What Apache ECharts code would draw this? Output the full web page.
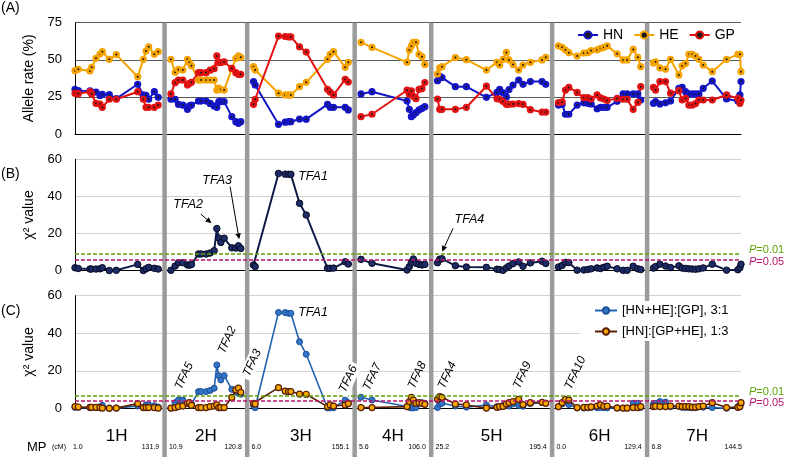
<!DOCTYPE html>
<html><head><meta charset="utf-8">
<script src="https://cdn.jsdelivr.net/npm/echarts@6/dist/echarts.min.js"></script>
<style>html,body{margin:0;padding:0;background:#fff}#c{width:787px;height:457px}</style>
</head><body><div id="c"></div>
<script>
// ---------------- data ----------------
const chromosomes = ['1H','2H','3H','4H','5H','6H','7H'];
const chrStart = [1.0, 10.9, 6.0, 5.6, 25.2, 0.0, 6.8];
const chrEnd   = [131.9, 120.8, 155.1, 106.0, 195.4, 129.4, 144.5];

const markerCM = [
  [1.0, 6.2, 24.6, 27.2, 34.0, 40.3, 44.0, 55.0, 66.0, 99.6, 108.5, 112.7, 116.9, 125.8, 131.9],
  [10.9, 17.5, 22.7, 29.6, 36.9, 40.0, 43.2, 54.2, 58.4, 66.3, 72.6, 78.9, 83.1, 86.2, 89.4, 94.6, 106.7, 113.0, 117.1, 120.8],
  [6.0, 8.6, 45.3, 55.8, 61.1, 64.7, 78.4, 88.9, 122.4, 126.6, 131.9, 150.2, 155.1],
  [5.6, 22.9, 78.0, 81.6, 84.8, 87.9, 92.1, 96.8, 101.6, 106.0],
  [25.2, 28.6, 32.2, 53.2, 70.5, 102.0, 118.7, 122.9, 128.2, 133.4, 137.6, 143.9, 152.8, 159.6, 171.2, 189.5, 195.4],
  [0.0, 5.8, 11.0, 16.3, 29.4, 39.9, 46.1, 51.4, 60.8, 66.1, 71.3, 76.6, 92.3, 101.7, 108.0, 117.5, 124.8, 129.4],
  [6.8, 10.1, 16.9, 25.8, 33.7, 46.8, 52.0, 57.3, 62.5, 67.8, 73.0, 78.3, 85.1, 99.3, 121.8, 139.6, 142.8, 144.5]
];

const hnRate = [
  [30.1, 29.2, 29.0, 28.0, 28.3, 26.0, 26.7, 26.5, 23.8, 33.5, 26.3, 26.0, 23.4, 28.5, 24.7],
  [23.4, 23.4, 20.0, 19.5, 16.6, 18.9, 19.5, 22.2, 22.2, 22.2, 20.6, 18.9, 18.0, 21.8, 21.8, 21.8, 11.7, 8.3, 7.2, 8.3],
  [35.3, 33.0, 6.5, 8.0, 8.3, 8.3, 10.1, 10.0, 20.0, 18.0, 18.0, 18.0, 16.2],
  [27.0, 28.5, 22.2, 16.6, 11.7, 12.8, 14.4, 16.2, 17.3, 18.4],
  [35.9, 38.8, 38.0, 31.9, 31.9, 24.7, 28.0, 30.1, 27.8, 25.0, 30.0, 33.0, 36.4, 33.5, 35.3, 35.3, 33.5],
  [19.5, 20.0, 13.3, 13.3, 19.5, 21.0, 20.7, 20.2, 17.0, 18.0, 18.0, 18.0, 22.0, 27.0, 27.0, 27.0, 27.0, 22.9],
  [20.7, 21.8, 20.2, 21.0, 22.2, 30.8, 31.4, 28.5, 27.0, 27.0, 27.0, 27.0, 30.8, 35.7, 23.6, 22.3, 26.3, 35.3]
];
const heRate = [
  [42.7, 43.6, 42.5, 44.9, 51.0, 53.9, 55.5, 50.3, 53.5, 38.6, 50.3, 55.9, 58.8, 53.7, 55.5],
  [50.3, 41.6, 43.5, 43.1, 50.3, 48.1, 46.0, 36.4, 36.4, 36.4, 36.4, 36.4, 29.6, 31.0, 30.0, 29.6, 44.0, 51.0, 52.6, 51.7],
  [45.4, 43.1, 27.5, 26.3, 26.3, 26.3, 31.9, 34.8, 50.3, 53.7, 55.5, 44.9, 48.3],
  [61.8, 58.4, 48.3, 56.6, 59.3, 61.8, 61.8, 53.7, 52.1, 46.9],
  [40.5, 44.6, 45.4, 51.5, 50.1, 43.1, 48.3, 46.5, 50.3, 55.0, 49.9, 46.8, 43.1, 46.5, 48.3, 49.9, 51.7],
  [59.4, 58.4, 56.6, 54.8, 52.5, 54.5, 54.8, 56.2, 56.7, 57.7, 58.4, 59.4, 54.0, 49.9, 49.9, 57.0, 51.7, 45.4],
  [47.9, 48.7, 44.5, 43.6, 50.3, 39.8, 46.0, 47.5, 53.7, 53.7, 52.5, 50.3, 46.5, 42.0, 50.3, 53.7, 53.7, 42.0]
];
const gpRate = [
  [27.4, 27.2, 28.5, 27.0, 20.7, 20.2, 18.0, 23.4, 23.4, 28.5, 23.4, 18.0, 18.0, 18.0, 19.5],
  [27.0, 34.6, 36.4, 36.4, 33.0, 34.1, 34.8, 41.3, 41.3, 41.3, 43.0, 44.0, 52.6, 48.1, 48.2, 48.7, 44.2, 41.3, 40.2, 40.2],
  [20.0, 23.4, 66.0, 65.7, 65.4, 65.4, 58.8, 55.2, 30.1, 28.3, 26.3, 36.8, 35.0],
  [11.7, 13.3, 29.5, 26.8, 29.0, 25.4, 23.8, 30.1, 30.6, 34.7],
  [23.6, 16.6, 16.6, 16.6, 18.0, 32.2, 23.7, 23.4, 21.9, 20.0, 20.1, 20.2, 20.5, 20.0, 16.4, 14.8, 14.8],
  [21.1, 21.6, 29.6, 31.4, 28.0, 24.5, 24.5, 23.6, 26.3, 24.3, 23.6, 22.6, 24.0, 23.4, 23.4, 16.6, 21.3, 31.9],
  [31.4, 29.6, 35.3, 35.3, 27.5, 29.2, 22.9, 24.0, 19.5, 19.5, 20.5, 22.9, 22.9, 22.9, 26.3, 24.0, 20.7, 22.7]
];
const chiB = [
  [1.6, 1.2, 0.9, 0.9, 0.9, 1.0, 1.6, 0.1, 0.2, 3.4, 0.1, 1.0, 1.8, 1.3, 0.9],
  [0.2, 2.5, 4.3, 4.3, 3.1, 3.0, 3.4, 9.0, 9.0, 9.0, 9.5, 10.8, 22.7, 17.6, 15.2, 17.5, 12.3, 12.2, 13.4, 12.0],
  [3.1, 2.2, 52.4, 52.0, 51.9, 51.9, 36.3, 30.0, 1.3, 1.3, 1.4, 4.8, 3.6],
  [6.1, 4.0, 0.4, 2.2, 4.5, 6.3, 4.0, 3.4, 3.1, 3.4],
  [4.3, 6.2, 6.4, 2.7, 2.0, 1.8, 0.8, 0.6, 0.2, 1.5, 2.5, 3.8, 4.7, 2.4, 4.2, 5.1, 3.9],
  [2.0, 2.8, 4.5, 4.4, 0.3, 0.4, 0.7, 1.0, 1.5, 1.2, 1.8, 2.4, 1.0, 0.2, 0.2, 2.4, 1.0, 0.6],
  [1.4, 2.2, 3.5, 2.5, 1.7, 2.6, 1.4, 1.2, 1.0, 0.9, 0.8, 1.0, 1.5, 3.5, 0.3, 0.5, 1.6, 3.5]
];
const chiC31 = [
  [0.5, 0.5, 0.3, 0.3, 0.4, 0.8, 1.6, 0.2, 0.1, 1.2, 0.5, 1.8, 1.8, 1.4, 0.7],
  [0.1, 3.0, 4.4, 4.4, 2.5, 2.3, 2.3, 8.9, 8.9, 8.9, 9.5, 10.7, 23.1, 17.4, 15.1, 17.4, 10.1, 9.0, 8.0, 7.5],
  [1.5, 0.3, 51.1, 51.0, 50.6, 50.6, 35.5, 28.8, 0.2, 0.2, 0.3, 4.4, 3.0],
  [5.9, 4.4, 1.0, 0.5, 0.2, 0.2, 0.4, 2.7, 3.0, 2.7],
  [0.4, 2.3, 2.7, 1.2, 0.6, 1.8, 0.9, 0.9, 1.5, 2.1, 1.2, 2.3, 1.5, 1.1, 2.5, 3.0, 2.7],
  [0.8, 2.3, 3.6, 2.0, 0.2, 0.1, 0.2, 0.5, 0.3, 0.4, 0.3, 0.2, 0.2, 0.1, 0.1, 2.7, 2.7, 0.5],
  [2.3, 2.6, 3.6, 3.3, 0.8, 1.0, 0.5, 0.4, 0.4, 0.3, 0.3, 0.8, 0.6, 0.4, 0.0, 0.9, 1.5, 2.5]
];
const chiC13 = [
  [0.9, 0.7, 0.5, 0.5, 0.5, 0.4, 0.1, 0.0, 0.1, 2.5, 0.4, 0.4, 0.4, 0.4, 0.1],
  [0.1, 0.4, 0.9, 1.2, 2.7, 3.0, 1.6, 0.4, 0.4, 0.4, 0.9, 1.2, 1.8, 0.4, 0.4, 0.4, 5.8, 9.8, 10.7, 8.5],
  [2.7, 2.3, 11.0, 9.2, 8.9, 8.9, 7.6, 7.5, 0.9, 1.8, 1.2, 1.8, 2.5],
  [0.4, 0.4, 0.9, 3.6, 5.9, 4.4, 2.7, 3.0, 2.7, 2.1],
  [4.8, 6.2, 5.9, 2.3, 1.8, 0.1, 0.5, 0.9, 1.0, 2.3, 3.0, 3.6, 4.8, 2.0, 3.0, 3.2, 2.7],
  [0.9, 3.0, 4.8, 4.4, 0.4, 0.5, 0.5, 0.8, 1.2, 1.8, 1.0, 1.2, 0.2, 0.1, 0.1, 0.4, 0.4, 0.9],
  [0.9, 1.1, 0.9, 0.9, 1.2, 1.2, 0.9, 0.9, 0.9, 0.6, 0.6, 0.9, 1.2, 3.0, 0.4, 0.5, 0.9, 3.0]
];
// threshold chi-square values
const thresholdsB = [9.21, 5.99];   // P=0.01, P=0.05 (df=2)
const thresholdsC = [6.63, 3.84];   // P=0.01, P=0.05 (df=1)
const thresholdNames = ['0.01', '0.05'];
const ticksA = [0, 25, 50, 75];
const ticksChi = [0, 20, 40, 60];
const legendA = ['HN', 'HE', 'GP'];
const legendC = ['[HN+HE]:[GP], 3:1', '[HN]:[GP+HE], 1:3'];

// annotations: [text, chromosome index, cM, value, align]
const annB = [
  ['TFA1', 2, 76.3, 50.5, 'left'],
  ['TFA2', 1, 38.0, 35.4, 'center'],
  ['TFA3', 1, 83.6, 48.8, 'center'],
  ['TFA4', 4, 75.2, 27.3, 'center']
];
// arrows: [chr, cM1, v1, cM2, v2]
const arrowsB = [
  [1, 57.9, 30.5, 74.7, 25.5],
  [1, 104.0, 45.2, 118.2, 16.9],
  [4, 49.6, 22.8, 32.3, 10.2]
];
// [text, chr, cM, value, rotated, whiteBackground]
const annC = [
  ['TFA5', 1, 31.7, 17.2, true, false],
  ['TFA2', 1, 99.3, 36.4, true, false],
  ['TFA3', 2, 4.0, 24.2, true, true],
  ['TFA1', 2, 76.3, 50.8, false, false],
  ['TFA6', 2, 155.0, 15.6, true, true],
  ['TFA7', 3, 23.4, 16.7, true, false],
  ['TFA8', 3, 94.0, 17.7, true, false],
  ['TFA4', 4, 40.6, 17.7, true, false],
  ['TFA9', 4, 158.6, 17.7, true, false],
  ['TFA10', 5, 26.7, 18.8, true, false]
];

// ---------------- layout helpers ----------------
const FONT = '"Liberation Sans", Arial, Helvetica, sans-serif';
const GAP = 20;
const lens = chrStart.map((s, i) => chrEnd[i] - s);
const offsets = [];
let acc = 0;
for (let i = 0; i < lens.length; i++) { offsets.push(acc); acc += lens[i] + GAP; }
const TOTAL = offsets[6] + lens[6];
function toX(c, cm) { return offsets[c] + cm - chrStart[c]; }
function pts(c, arr) { return markerCM[c].map((cm, i) => [toX(c, cm), arr[c][i]]); }

const chart = echarts.init(document.getElementById('c'));

const grids = [
  { left: 75, right: 46, top: 22.7, height: 111.3 },
  { left: 75, right: 46, top: 159.3, height: 111.4 },
  { left: 75, right: 46, top: 295.7, height: 112.6 }
];
const xAxes = grids.map((g, i) => ({
  type: 'value', gridIndex: i, min: 0, max: TOTAL,
  axisLine: { show: true, lineStyle: { color: '#000', width: 1 } },
  axisTick: { show: false }, axisLabel: { show: false }, splitLine: { show: false }
}));
function yAx(i, ticks, name, splitColor) {
  return {
    type: 'value', gridIndex: i, min: ticks[0], max: ticks[ticks.length - 1],
    interval: ticks[1] - ticks[0],
    name: name, nameLocation: 'middle', nameGap: 33,
    nameTextStyle: { fontSize: 14, color: '#000', fontFamily: FONT },
    axisLine: { show: true, lineStyle: { color: '#000', width: 1 } },
    axisTick: { show: false },
    axisLabel: { fontSize: 13, color: '#000', margin: 13, fontFamily: FONT },
    splitLine: { show: true, lineStyle: { color: splitColor, width: 1 } }
  };
}
const yAxes = [
  yAx(0, ticksA, 'Allele rate (%)', '#5a5a5a'),
  yAx(1, ticksChi, 'χ² value', '#d2d2d2'),
  yAx(2, ticksChi, 'χ² value', '#d2d2d2')
];

const series = [];
const aDefs = [['HN', hnRate, '#1515c8'], ['HE', heRate, '#f5a300'], ['GP', gpRate, '#e31212']];
aDefs.forEach(([name, arr, col]) => {
  chromosomes.forEach((ch, c) => series.push({
    type: 'line', name: name, xAxisIndex: 0, yAxisIndex: 0, data: pts(c, arr),
    symbol: 'circle', symbolSize: 4.6, showSymbol: true,
    lineStyle: { color: col, width: 2 },
    itemStyle: { color: '#1a1a1a', borderColor: col, borderWidth: 2.6 },
    z: 3
  }));
});
function mk(vals, colors) {
  return {
    silent: true, symbol: ['none', 'none'], label: { show: false },
    data: vals.map((v, i) => ({ yAxis: v, lineStyle: { color: colors[i], type: [4, 2], width: 1.5 } }))
  };
}
const green = '#5ea00a', magenta = '#b8146e';
chromosomes.forEach((ch, c) => series.push({
  type: 'line', name: 'chiB', xAxisIndex: 1, yAxisIndex: 1, data: pts(c, chiB),
  symbol: 'circle', symbolSize: 6.5, showSymbol: true,
  lineStyle: { color: '#101c48', width: 2 },
  itemStyle: { color: '#1d2b66', borderColor: '#060b22', borderWidth: 1 },
  markLine: c === 0 ? mk(thresholdsB, [green, magenta]) : undefined,
  z: 3
}));
chromosomes.forEach((ch, c) => series.push({
  type: 'line', name: legendC[0], xAxisIndex: 2, yAxisIndex: 2, data: pts(c, chiC31),
  symbol: 'circle', symbolSize: 6, showSymbol: true,
  lineStyle: { color: '#2262b2', width: 1.6 },
  itemStyle: { color: '#3274c8', borderColor: '#1c4f96', borderWidth: 1 },
  markLine: c === 0 ? mk(thresholdsC, [green, magenta]) : undefined,
  z: 3
}));
chromosomes.forEach((ch, c) => series.push({
  type: 'line', name: legendC[1], xAxisIndex: 2, yAxisIndex: 2, data: pts(c, chiC13),
  symbol: 'circle', symbolSize: 6, showSymbol: true,
  lineStyle: { color: '#5a1e02', width: 1.6 },
  itemStyle: { color: '#f6a800', borderColor: '#5a1e02', borderWidth: 1.2 },
  z: 4
}));

const option = {
  animation: false,
  backgroundColor: '#fff',
  textStyle: { fontFamily: FONT },
  grid: grids, xAxis: xAxes, yAxis: yAxes, series: series,
  legend: [
    { data: legendA, left: 577, top: 28, itemWidth: 20, itemHeight: 9, itemGap: 10,
      padding: 0, selectedMode: false,
      textStyle: { fontSize: 14, color: '#000', fontFamily: FONT } },
    { data: legendC, left: 580, top: 301, orient: 'vertical', itemWidth: 22, itemHeight: 8, itemGap: 8,
      padding: [3, 17, 3, 14], backgroundColor: '#fff', selectedMode: false,
      textStyle: { fontSize: 13, color: '#000', fontFamily: FONT } }
  ]
};
chart.setOption(option);

// ---------------- decorations ----------------
function px(g, c, cm, v) { return chart.convertToPixel({ gridIndex: g }, [toX(c, cm), v]); }
function pxRaw(g, x, v) { return chart.convertToPixel({ gridIndex: g }, [x, v]); }
const gr = [];
const topY = pxRaw(0, 0, ticksA[ticksA.length - 1])[1];
for (let c = 0; c < chromosomes.length - 1; c++) {
  const x = pxRaw(0, offsets[c] + lens[c] + GAP / 2, 0)[0];
  gr.push({ type: 'line', z: 1, silent: true,
    shape: { x1: x, y1: topY, x2: x, y2: 457 },
    style: { stroke: '#9b9b9b', lineWidth: 4.5 } });
}
function txt(t, x, y, o) {
  o = o || {};
  gr.push({ type: 'text', x: x, y: y, z: o.z || 20, rotation: o.rot || 0, silent: true,
    style: Object.assign({ text: t, fill: o.fill || '#000', fontSize: o.size || 12,
      fontFamily: FONT, fontStyle: o.italic ? 'italic' : 'normal', fontWeight: o.weight || 'normal',
      align: o.align || 'center', verticalAlign: o.va || 'middle' }, o.extra || {}) });
}
// chromosome labels & MP ticks
chromosomes.forEach((ch, c) => {
  const xs = pxRaw(2, offsets[c], 0)[0];
  const xe = pxRaw(2, offsets[c] + lens[c], 0)[0];
  txt(ch, (xs + xe) / 2, 436, { size: 17 });
  txt(chrStart[c].toFixed(1), xs - 2, 447, { size: 7, align: 'left' });
  txt(chrEnd[c].toFixed(1), xe + 1, 447, { size: 7, align: 'right' });
});
txt('MP', 27, 447, { size: 13, align: 'left' });
txt('(cM)', 52, 447, { size: 7, align: 'left' });
// panel labels
txt('(A)', 1, 8, { size: 14, align: 'left' });
txt('(B)', 1, 174, { size: 14, align: 'left' });
txt('(C)', 1, 311, { size: 14, align: 'left' });
// P labels
[[1, thresholdsB], [2, thresholdsC]].forEach(([g, th]) => {
  const xr = pxRaw(g, TOTAL, 0)[0] + 8;
  th.forEach((v, i) => {
    const y = pxRaw(g, 0, v)[1] + (i === 0 ? -3.5 : 2);
    const col = i === 0 ? green : magenta;
    txt('{i|P}=' + thresholdNames[i], xr, y, { size: 11, align: 'left', fill: col,
      extra: { rich: { i: { fontStyle: 'italic', fontSize: 11, fontFamily: FONT, fill: col } } } });
  });
});
// panel B annotations
annB.forEach(([t, c, cm, v, al]) => {
  const p = px(1, c, cm, v);
  txt(t, p[0], p[1], { italic: true, size: 12.5, align: al });
});
arrowsB.forEach(([c, cm1, v1, cm2, v2]) => {
  const a = px(1, c, cm1, v1), b = px(1, c, cm2, v2);
  const dx = b[0] - a[0], dy = b[1] - a[1], L = Math.hypot(dx, dy);
  const ux = dx / L, uy = dy / L, hl = 6, hw = 2.8;
  const bx = b[0] - ux * hl, by = b[1] - uy * hl;
  gr.push({ type: 'line', z: 20, silent: true, shape: { x1: a[0], y1: a[1], x2: bx, y2: by },
    style: { stroke: '#000', lineWidth: 1 } });
  gr.push({ type: 'polygon', z: 20, silent: true,
    shape: { points: [[b[0], b[1]], [bx - uy * hw, by + ux * hw], [bx + uy * hw, by - ux * hw]] },
    style: { fill: '#000' } });
});
// panel C annotations
annC.forEach(([t, c, cm, v, rot, bg]) => {
  const p = px(2, c, cm, v);
  if (rot) {
    txt(t, p[0], p[1], { italic: true, size: 12, rot: 65 * Math.PI / 180,
      extra: bg ? { backgroundColor: '#fff', padding: [1, 3] } : {} });
  } else {
    txt(t, p[0], p[1], { italic: true, size: 12.5, align: 'left' });
  }
});
chart.setOption({ graphic: { elements: gr } });
</script></body></html>
